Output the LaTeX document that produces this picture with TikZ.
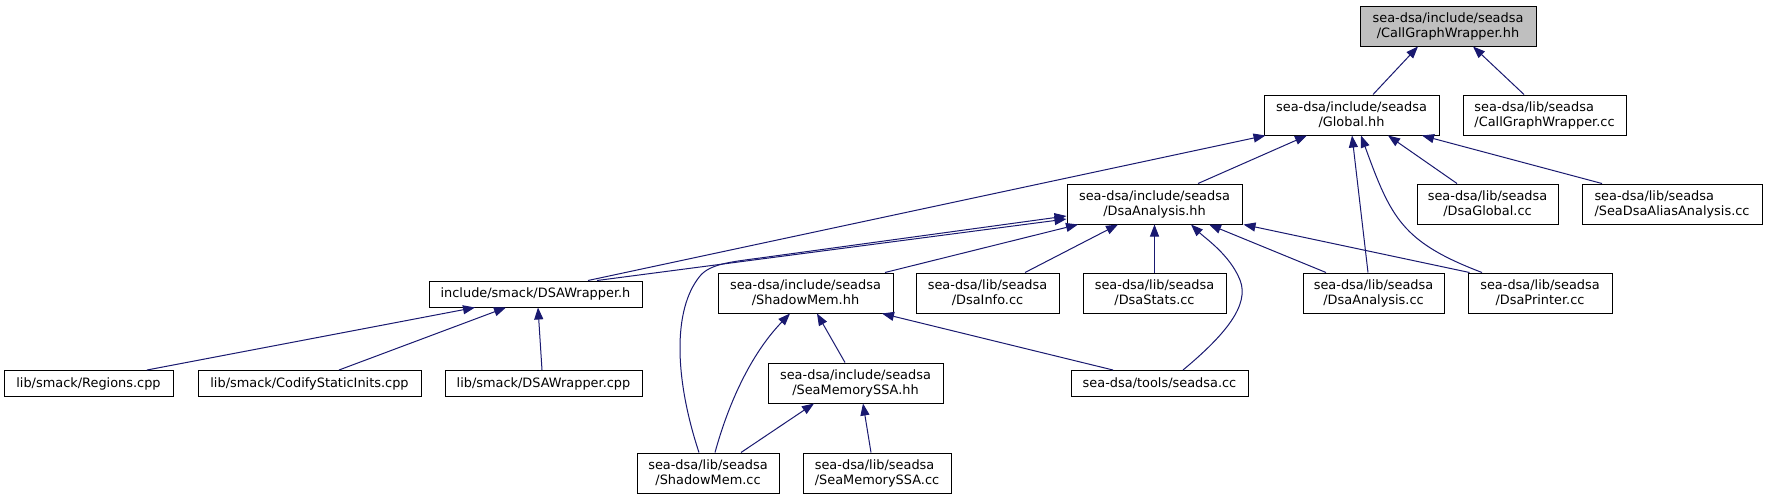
\documentclass[tikz,border=0pt]{standalone}
\usepackage{fontspec}
\setmainfont{DejaVu Sans}
\usetikzlibrary{arrows.meta,calc}
\definecolor{edgeblue}{HTML}{191970}
\definecolor{hlgray}{HTML}{BFBFBF}
\newcommand{\doxfont}{\fontsize{12.9}{15}\selectfont}
\begin{document}
\begin{tikzpicture}[x=1pt,y=-1pt,
  box/.style={draw=black,line width=1pt,fill=white,inner sep=0pt,align=center,font=\doxfont},
  boxl/.style={box,align=left},
  edge/.style={draw=edgeblue,line width=1pt,-{Triangle[length=12pt,width=9pt]}}]
\fill[white] (0,0) rectangle (1767,499);
\useasboundingbox (0,0) rectangle (1767,499);
% nodes
\node[box,fill=hlgray,minimum width=176,minimum height=40] (cgwhh) at (1448,26) {sea-dsa/include/seadsa\\/CallGraphWrapper.hh};
\node[box,minimum width=175,minimum height=40] (global) at (1351.5,115) {sea-dsa/include/seadsa\\/Global.hh};
\node[boxl,minimum width=163,minimum height=40] (cgwcc) at (1544.5,115) {sea-dsa/lib/seadsa\\/CallGraphWrapper.cc};
\node[box,minimum width=175,minimum height=40] (dsahh) at (1154.5,204) {sea-dsa/include/seadsa\\/DsaAnalysis.hh};
\node[box,minimum width=141,minimum height=40] (dsaglobal) at (1487.5,204) {sea-dsa/lib/seadsa\\/DsaGlobal.cc};
\node[boxl,minimum width=180,minimum height=40] (alias) at (1672,204) {sea-dsa/lib/seadsa\\/SeaDsaAliasAnalysis.cc};
\node[box,minimum width=213,minimum height=26] (dsawh) at (535.5,294) {include/smack/DSAWrapper.h};
\node[box,minimum width=175,minimum height=40] (shadowhh) at (805.5,293) {sea-dsa/include/seadsa\\/ShadowMem.hh};
\node[box,minimum width=143,minimum height=40] (dsainfo) at (987.5,293) {sea-dsa/lib/seadsa\\/DsaInfo.cc};
\node[box,minimum width=143,minimum height=40] (dsastats) at (1154.5,293) {sea-dsa/lib/seadsa\\/DsaStats.cc};
\node[box,minimum width=141,minimum height=40] (dsacc) at (1373.5,293) {sea-dsa/lib/seadsa\\/DsaAnalysis.cc};
\node[box,minimum width=144,minimum height=40] (printer) at (1540,293) {sea-dsa/lib/seadsa\\/DsaPrinter.cc};
\node[box,minimum width=169,minimum height=26] (regions) at (88.5,383.5) {lib/smack/Regions.cpp};
\node[box,minimum width=223,minimum height=26] (codify) at (309.5,383.5) {lib/smack/CodifyStaticInits.cpp};
\node[box,minimum width=197,minimum height=26] (dsawcpp) at (543.5,383.5) {lib/smack/DSAWrapper.cpp};
\node[box,minimum width=175,minimum height=40] (seamemhh) at (855.5,383) {sea-dsa/include/seadsa\\/SeaMemorySSA.hh};
\node[box,minimum width=177,minimum height=26] (seadsacc) at (1159.5,383.5) {sea-dsa/tools/seadsa.cc};
\node[box,minimum width=142,minimum height=40] (shadowcc) at (708,473) {sea-dsa/lib/seadsa\\/ShadowMem.cc};
\node[boxl,minimum width=148,minimum height=40] (seamemcc) at (877,473) {sea-dsa/lib/seadsa\\/SeaMemorySSA.cc};
% edges
\draw[edge] ($(global.north)+(21.5,0)$) -- ($(cgwhh.south)+(-30,0)$);
\draw[edge] ($(cgwcc.north)+(-20.5,0)$) -- ($(cgwhh.south)+(25,0)$);
\draw[edge] ($(dsawh.north)+(52.5,0)$) -- ($(global.south west)+(2,0)$);
\draw[edge] ($(dsahh.north)+(43.5,0)$) -- ($(global.south)+(-44.5,0)$);
\draw[edge] ($(dsacc.north)+(-5.5,0)$) -- ($(global.south)+(0.5,0)$);
\draw[edge] ($(printer.north)+(-58,0)$) .. controls (1402,242) and (1391,218) .. ($(global.south)+(9.5,0)$);
\draw[edge] ($(dsaglobal.north)+(-30.5,0)$) -- ($(global.south)+(36.5,0)$);
\draw[edge] ($(alias.north)+(-70,0)$) -- ($(global.south)+(70.5,0)$);
\draw[edge] ($(dsawh.north)+(61.5,0)$) -- ($(dsahh.west)+(0,15)$);
\draw[edge] ($(shadowcc.north)+(-9,0)$) .. controls (675,380) and (672,310) .. (700,276) .. controls (710,264) and (730,262) .. (760,258) -- ($(dsahh.west)+(0,12)$);
\draw[edge] ($(shadowhh.north)+(79.5,0)$) -- ($(dsahh.south)+(-76.5,0)$);
\draw[edge] ($(dsainfo.north)+(37.5,0)$) -- ($(dsahh.south)+(-36.5,0)$);
\draw[edge] (dsastats.north) -- (dsahh.south);
\draw[edge] ($(seadsacc.north)+(23.5,0)$) .. controls (1225,335) and (1250,305) .. (1240,280) .. controls (1230,255) and (1205,238) .. ($(dsahh.south)+(36.5,0)$);
\draw[edge] ($(dsacc.north)+(-47.5,0)$) -- ($(dsahh.south)+(54.5,0)$);
\draw[edge] ($(printer.north west)+(2,0)$) -- ($(dsahh.south east)+(1,0)$);
\draw[edge] ($(regions.north)+(58.5,0)$) -- ($(dsawh.south)+(-60.5,0)$);
\draw[edge] ($(codify.north)+(29.5,0)$) -- ($(dsawh.south)+(-29.5,0)$);
\draw[edge] ($(dsawcpp.north)+(-1.5,0)$) -- ($(dsawh.south)+(2.5,0)$);
\draw[edge] ($(shadowcc.north)+(7,0)$) .. controls (728,405) and (750,355) .. ($(shadowhh.south)+(-15.5,0)$);
\draw[edge] ($(seamemhh.north)+(-10.5,0)$) -- ($(shadowhh.south)+(11.5,0)$);
\draw[edge] ($(seadsacc.north)+(-46.5,0)$) -- ($(shadowhh.south)+(76.5,0)$);
\draw[edge] ($(shadowcc.north)+(33,0)$) -- ($(seamemhh.south)+(-41.5,0)$);
\draw[edge] ($(seamemcc.north)+(-6,0)$) -- ($(seamemhh.south)+(7.5,0)$);
\end{tikzpicture}
\end{document}
